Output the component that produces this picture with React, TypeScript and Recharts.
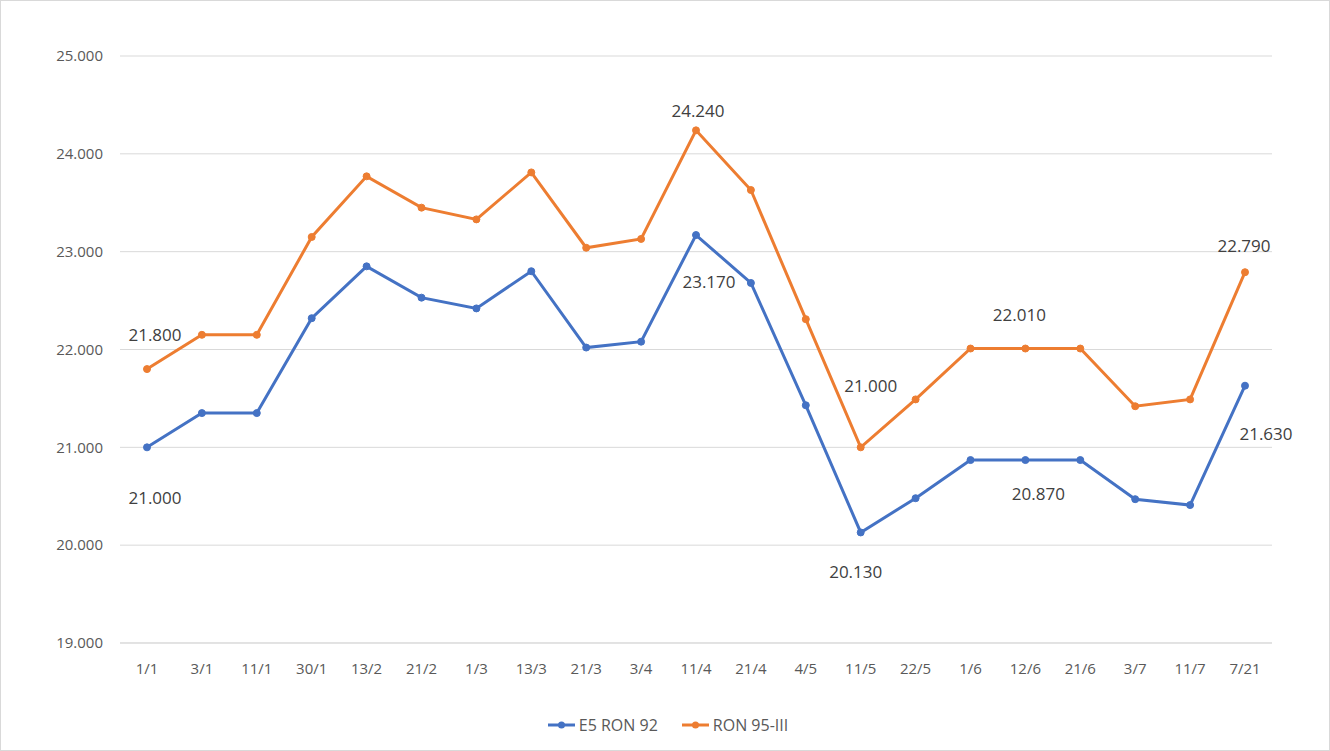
import { LineChart, Line, XAxis, YAxis, CartesianGrid, Legend, LabelList } from "recharts";

const dates = ["1/1", "3/1", "11/1", "30/1", "13/2", "21/2", "1/3", "13/3", "21/3", "3/4", "11/4", "21/4", "4/5", "11/5", "22/5", "1/6", "12/6", "21/6", "3/7", "11/7", "7/21"];
const e5Ron92 = [21000, 21350, 21350, 22320, 22850, 22530, 22420, 22800, 22020, 22080, 23170, 22680, 21430, 20130, 20480, 20870, 20870, 20870, 20470, 20410, 21630];
const ron95 = [21800, 22150, 22150, 23150, 23770, 23450, 23330, 23810, 23040, 23130, 24240, 23630, 22310, 21000, 21490, 22010, 22010, 22010, 21420, 21490, 22790];
const yTicks = [19000, 20000, 21000, 22000, 23000, 24000, 25000];

const BLUE = "#4472C4";
const ORANGE = "#ED7D31";
const FONT = "'Open Sans', sans-serif";

// which points get a value label, and where it sits relative to the dot
const e5LabelOffsets: Record<number, [number, number]> = {
  0: [8, 50],
  10: [13, 46],
  13: [-5, 39],
  16: [13, 33],
  20: [21, 48],
};
const ron95LabelOffsets: Record<number, [number, number]> = {
  0: [8, -35],
  10: [2, -20],
  13: [10, -62],
  16: [-6, -34],
  20: [-1, -27],
};

const data = dates.map((d, i) => ({ date: d, e5: e5Ron92[i], ron95: ron95[i] }));

function fmt(v: number) {
  return String(Math.round(v)).replace(/\B(?=(\d{3})+(?!\d))/g, ".");
}

function makeLabel(offsets: Record<number, [number, number]>) {
  return (props: any) => {
    const off = offsets[props.index];
    if (!off) return null;
    return (
      <text
        x={Number(props.x) + off[0]}
        y={Number(props.y) + off[1]}
        textAnchor="middle"
        dominantBaseline="central"
        fontSize={17}
        fontFamily={FONT}
        fill="#404040"
      >
        {fmt(Number(props.value))}
      </text>
    );
  };
}

function LegendContent() {
  const items = [
    { name: "E5 RON 92", color: BLUE },
    { name: "RON 95-III", color: ORANGE },
  ];
  return (
    <div style={{ display: "flex", justifyContent: "center", gap: 24, fontFamily: FONT, fontSize: 16, color: "#595959" }}>
      {items.map((it) => (
        <div key={it.name} style={{ display: "flex", alignItems: "center" }}>
          <svg width={27} height={10} style={{ marginRight: 4 }}>
            <line x1={0} y1={5} x2={27} y2={5} stroke={it.color} strokeWidth={3} />
            <circle cx={13.5} cy={5} r={3.5} fill={it.color} />
          </svg>
          <span>{it.name}</span>
        </div>
      ))}
    </div>
  );
}

export default function App() {
  return (
    <div style={{ width: 1330, height: 751, position: "relative", boxSizing: "border-box", border: "1px solid #d9d9d9", background: "#fff" }}>
      <style>{`body{margin:0}`}</style>
      <div style={{ position: "absolute", left: -1, top: -1 }}>
        <LineChart width={1330} height={751} data={data} margin={{ top: 56, right: 58, bottom: 10, left: 0 }}>
          <CartesianGrid vertical={false} stroke="#d9d9d9" />
          <XAxis
            dataKey="date"
            tickLine={false}
            axisLine={{ stroke: "#d9d9d9" }}
            tick={{ fontSize: 15, fill: "#595959", fontFamily: FONT }}
            tickMargin={14}
            height={71}
            interval={0}
            padding={{ left: 27, right: 27 }}
          />
          <YAxis
            domain={[19000, 25000]}
            ticks={yTicks}
            tickFormatter={fmt}
            tickLine={false}
            axisLine={false}
            width={120}
            tickMargin={11}
            tick={{ fontSize: 15, fill: "#595959", fontFamily: FONT }}
          />
          <Legend
            verticalAlign="bottom"
            height={27}
            wrapperStyle={{ left: 0, width: 1336 }}
            content={<LegendContent />}
          />
          <Line
            type="linear"
            dataKey="e5"
            name="E5 RON 92"
            stroke={BLUE}
            strokeWidth={3}
            dot={{ r: 3.5, fill: BLUE, stroke: BLUE, strokeWidth: 1 }}
            isAnimationActive={false}
          >
            <LabelList dataKey="e5" content={makeLabel(e5LabelOffsets)} />
          </Line>
          <Line
            type="linear"
            dataKey="ron95"
            name="RON 95-III"
            stroke={ORANGE}
            strokeWidth={3}
            dot={{ r: 3.5, fill: ORANGE, stroke: ORANGE, strokeWidth: 1 }}
            isAnimationActive={false}
          >
            <LabelList dataKey="ron95" content={makeLabel(ron95LabelOffsets)} />
          </Line>
        </LineChart>
      </div>
    </div>
  );
}
